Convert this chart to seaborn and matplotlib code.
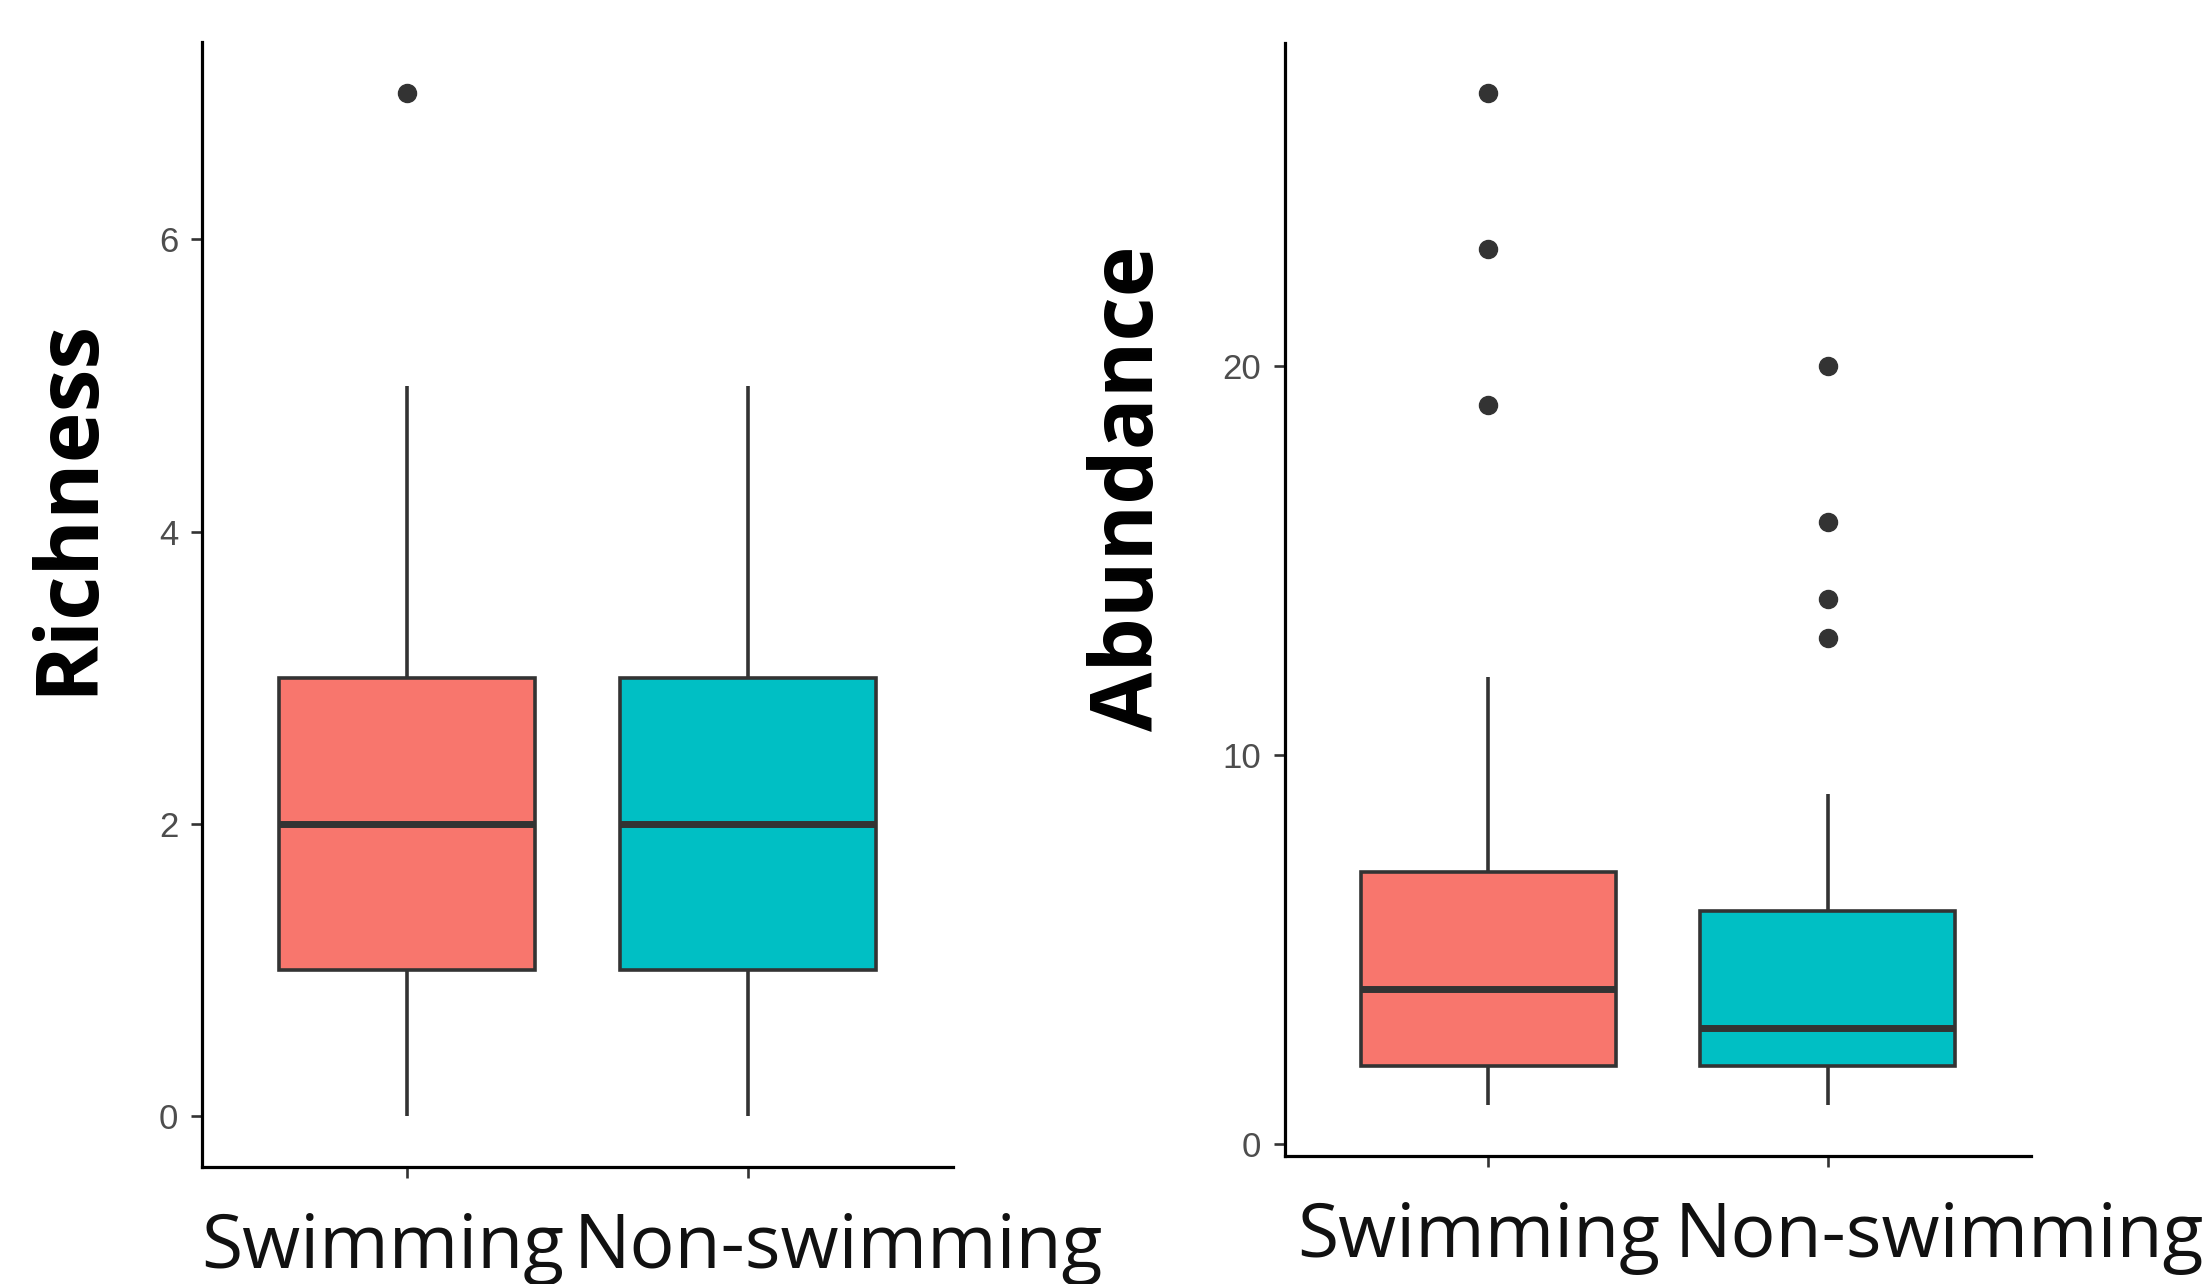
import matplotlib
matplotlib.use("Agg")
import matplotlib.pyplot as plt
import matplotlib.transforms as mtransforms
import seaborn as sns
import pandas as pd

categories = ["Swimming", "Non-swimming"]
richness_swimming = [0, 1, 1, 2, 2, 3, 3, 5, 7]
richness_nonswimming = [0, 1, 1, 2, 2, 3, 3, 4, 5]
abundance_swimming = [1, 1, 2, 2, 2, 3, 3, 4, 4, 5, 6, 7, 7, 12, 19, 23, 27]
abundance_nonswimming = [1, 1, 2, 2, 2, 2, 2, 3, 3, 3, 3, 4, 4, 5, 6, 6, 9, 13, 14, 16, 20]
colors = ["#F8766D", "#00BFC4"]

def make_df(a, b):
    return pd.DataFrame({
        "group": [categories[0]] * len(a) + [categories[1]] * len(b),
        "value": a + b,
    })

sns.set_theme(style="ticks")
plt.rcParams["font.family"] = ["Liberation Sans", "DejaVu Sans"]

fig = plt.figure(figsize=(22.11, 12.84), dpi=100)
ax1 = fig.add_axes([0.0914, 0.0911, 0.3397, 0.876])
ax2 = fig.add_axes([0.5812, 0.0997, 0.3374, 0.867])

edge = "#333333"
def draw(ax, df, ylabel, ylim, yticks, label_offsets, label_y_pad):
    sns.boxplot(data=df, x="group", y="value", hue="group", order=categories,
                hue_order=categories, palette=colors, width=0.75, ax=ax,
                linecolor=edge, linewidth=2.6, showcaps=False, legend=False,
                saturation=1,
                medianprops=dict(linewidth=5, color=edge),
                flierprops=dict(marker="o", markersize=13, markerfacecolor=edge,
                                markeredgecolor=edge))
    ax.set_xlim(-0.6, 1.6)
    ax.set_ylim(*ylim)
    ax.set_yticks(yticks)
    ax.set_yticklabels([str(t) for t in yticks])
    for s in ["top", "right"]:
        ax.spines[s].set_visible(False)
    for s in ["left", "bottom"]:
        ax.spines[s].set_linewidth(2.3)
        ax.spines[s].set_color("black")
    ax.tick_params(axis="both", length=8, width=1.9, color=edge)
    ax.tick_params(axis="y", labelsize=25, labelcolor="#4D4D4D", pad=9)
    ax.tick_params(axis="x", labelsize=54, labelcolor="#111111", pad=label_y_pad)
    for lab in ax.get_xticklabels():
        lab.set_fontfamily(["Open Sans", "DejaVu Sans"])
    for lab, dx in zip(ax.get_xticklabels(), label_offsets):
        lab.set_transform(lab.get_transform() + mtransforms.ScaledTranslation(dx / 100, 0, fig.dpi_scale_trans))
    ax.set_xlabel("")
    ax.set_ylabel(ylabel, fontsize=62, fontweight="bold", color="black",
                  fontfamily=["Open Sans", "DejaVu Sans"])

draw(ax1, make_df(richness_swimming, richness_nonswimming), "Richness",
     (-0.35, 7.35), [0, 2, 4, 6], [-24, 90], 24)
draw(ax2, make_df(abundance_swimming, abundance_nonswimming), "Abundance",
     (-0.3, 28.3), [0, 10, 20], [-10, 112], 24)
ax1.yaxis.set_label_coords(112 / 2211, 0.5, transform=fig.transFigure)
ax2.yaxis.set_label_coords(1174 / 2211, 0.5, transform=fig.transFigure)
ax1.yaxis.label.set_y(1 - 506 / 1284)
ax2.yaxis.label.set_y(1 - 488 / 1284)

fig.savefig("out.png", dpi=100)
